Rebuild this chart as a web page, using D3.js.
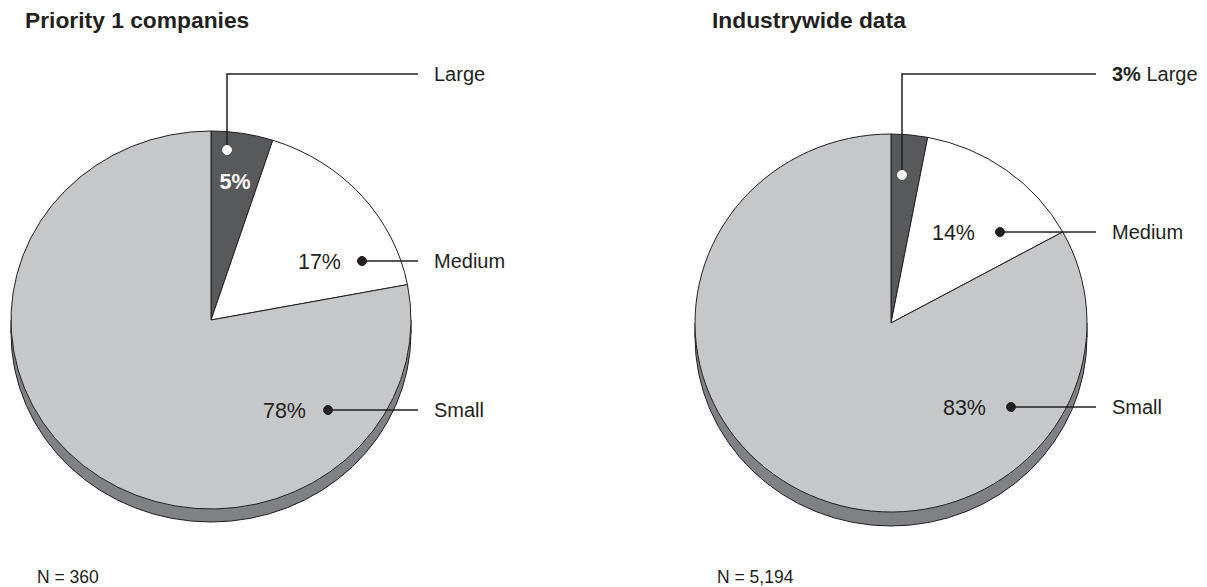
<!DOCTYPE html>
<html>
<head>
<meta charset="utf-8">
<script src="https://cdn.jsdelivr.net/npm/d3@7"></script>
<style>
  body { margin: 0; background: #fff; }
  svg { font-family: "Liberation Sans", Arial, Helvetica, sans-serif; }
</style>
</head>
<body>
<div id="chart"></div>
<script>
// categories and values (percent shares)
const categories = ["Large", "Medium", "Small"]
const priorityValues = [5, 17, 78]
const industryValues = [3, 14, 83]
const titles = ["Priority 1 companies", "Industrywide data"]
const sampleSizes = ["N = 360", "N = 5,194"]

const colors = { Large: "#58595b", Medium: "#ffffff", Small: "#c6c7c9" }
const rimColor = "#808184"
const ink = "#231f20"

const W = 1207, H = 587

const svg = d3.select("#chart").append("svg")
    .attr("width", W)
    .attr("height", H)

// layout of each panel: pie ellipse and label leader positions
const panels = [
    {
        values: priorityValues, title: titles[0], n: sampleSizes[0],
        titleX: 25, nX: 37,
        cx: 211, cy: 320, rx: 200, ry: 189, depth: 13,
        lineEnd: 418, textX: 434,
        // dot positions for each label and text y
        dots: [[227, 150], [362, 261], [328, 410]],
        rowY: [74, 261, 410],
        pct: [[235, 189, "middle"], [341, 269, "end"], [306, 418, "end"]],
        bigLabelIn: true
    },
    {
        values: industryValues, title: titles[1], n: sampleSizes[1],
        titleX: 712, nX: 717,
        cx: 891, cy: 323, rx: 196, ry: 189, depth: 14,
        lineEnd: 1096, textX: 1112,
        dots: [[902, 175], [1000, 232], [1011, 407]],
        rowY: [74, 232, 407],
        pct: [null, [975, 240, "end"], [986, 415, "end"]],
        bigLabelIn: false
    }
]

const pie = d3.pie().sort(null).value(d => d.value)

panels.forEach(p => {
    const g = svg.append("g")
    const data = categories.map((c, i) => ({ category: c, value: p.values[i] }))

    // title
    g.append("text")
        .attr("x", p.titleX).attr("y", 28)
        .attr("font-size", 22.8).attr("font-weight", "bold").attr("fill", ink)
        .text(p.title)

    // 3D rim: bottom ellipse + band between
    g.append("ellipse")
        .attr("cx", p.cx).attr("cy", p.cy + p.depth)
        .attr("rx", p.rx).attr("ry", p.ry)
        .attr("fill", rimColor).attr("stroke", ink).attr("stroke-width", 1)
    g.append("rect")
        .attr("x", p.cx - p.rx).attr("y", p.cy)
        .attr("width", p.rx * 2).attr("height", p.depth)
        .attr("fill", rimColor)
    g.append("line")
        .attr("x1", p.cx - p.rx).attr("x2", p.cx - p.rx)
        .attr("y1", p.cy).attr("y2", p.cy + p.depth)
        .attr("stroke", ink)
    g.append("line")
        .attr("x1", p.cx + p.rx).attr("x2", p.cx + p.rx)
        .attr("y1", p.cy).attr("y2", p.cy + p.depth)
        .attr("stroke", ink)

    // top face slices (circle squashed into ellipse)
    const arc = d3.arc().innerRadius(0).outerRadius(p.rx)
    g.append("g")
        .attr("transform", `translate(${p.cx},${p.cy}) scale(1,${p.ry / p.rx})`)
        .selectAll("path")
        .data(pie(data))
        .join("path")
        .attr("d", arc)
        .attr("fill", d => colors[d.data.category])
        .attr("stroke", ink)
        .attr("stroke-width", 1)
        .attr("vector-effect", "non-scaling-stroke")

    // leader lines, dots, labels
    data.forEach((d, i) => {
        const [dx, dy] = p.dots[i]
        const ry = p.rowY[i]
        const pts = i === 0
            ? [[dx, dy], [dx, ry], [p.lineEnd, ry]]
            : [[dx, dy], [p.lineEnd, ry]]
        g.append("path")
            .attr("d", d3.line()(pts))
            .attr("fill", "none").attr("stroke", ink).attr("stroke-width", 1.5)
        g.append("circle")
            .attr("cx", dx).attr("cy", dy).attr("r", 4.5)
            .attr("fill", i === 0 ? "#fff" : ink)
            .attr("stroke", i === 0 ? "#fff" : ink)

        const t = g.append("text")
            .attr("x", p.textX).attr("y", ry + 7)
            .attr("font-size", 20).attr("fill", ink)
        if (i === 0 && !p.bigLabelIn) {
            t.append("tspan").attr("font-weight", "bold").text(d.value + "%")
            t.append("tspan").text(" " + d.category)
        } else {
            t.text(d.category)
        }

        const pc = p.pct[i]
        if (pc) {
            g.append("text")
                .attr("x", pc[0]).attr("y", pc[1])
                .attr("text-anchor", pc[2])
                .attr("font-size", 21.5)
                .attr("font-weight", i === 0 ? "bold" : "normal")
                .attr("fill", i === 0 ? "#fff" : ink)
                .text(d.value + "%")
        }
    })

    // sample size
    g.append("text")
        .attr("x", p.nX).attr("y", 583)
        .attr("font-size", 17.5).attr("fill", ink)
        .text(p.n)
})
</script>
</body>
</html>
